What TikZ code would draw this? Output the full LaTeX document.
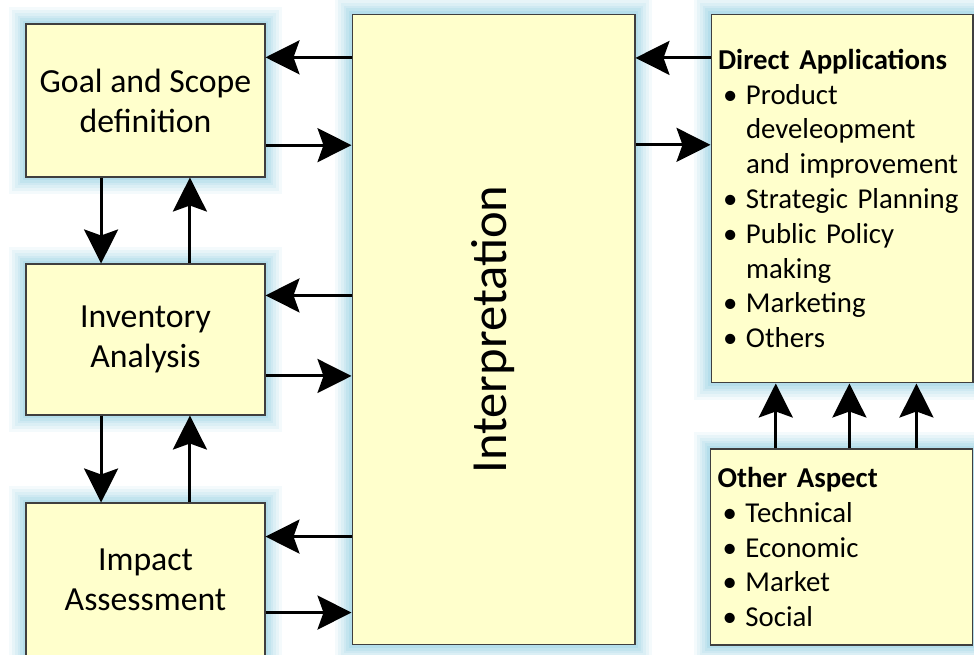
\documentclass[tikz,border=0pt]{standalone}
\usepackage{fontspec}
\setmainfont{Carlito}
\usepackage{tikz}
\usetikzlibrary{arrows.meta, positioning, calc}
\definecolor{boxFill}{HTML}{FFFFCC}
\definecolor{boxLine}{HTML}{3F3F3F}
\definecolor{glowBlue}{HTML}{8FCDE0}
\newcommand{\bul}{\makebox[0.56cm][l]{\hspace*{0.1cm}\textbullet}}
\newcommand{\ind}{\hspace*{0.56cm}}

\begin{document}
\begin{tikzpicture}[x=0.02cm, y=-0.02cm,
  blk/.style={rectangle, draw=boxLine, line width=0.6pt, fill=boxFill, inner sep=0pt,
    preaction={draw=glowBlue, line width=0.68cm, opacity=0.1},
    preaction={draw=glowBlue, line width=0.56cm, opacity=0.12},
    preaction={draw=glowBlue, line width=0.44cm, opacity=0.14},
    preaction={draw=glowBlue, line width=0.34cm, opacity=0.16},
    preaction={draw=glowBlue, line width=0.24cm, opacity=0.2},
    preaction={draw=glowBlue, line width=0.14cm, opacity=0.25}},
  stage/.style={blk, minimum width=4.78cm, align=center, font=\fontsize{19.2}{22.8}\selectfont},
  lst/.style={blk, minimum width=5.24cm, align=left, text width=4.96cm, font=\fontsize{16.4}{19.8}\selectfont},
  arr/.style={line width=1.7pt, -{Stealth[length=0.68cm, width=0.68cm, inset=0.12cm]}},
]
  \useasboundingbox (0,0) rectangle (974,655);
  % left column: the three phases
  \node[stage, minimum height=3.06cm] (goal) at (145.5,100.5) {Goal and Scope\\definition};
  \node[stage, minimum height=3.02cm] (inv)  at (145.5,339.5) {Inventory\\Analysis};
  \node[stage, minimum height=3.08cm] (imp)  at (145.5,580)   {Impact\\Assessment};
  % middle column
  \node[blk, minimum width=5.66cm, minimum height=12.62cm] (interp) at (493.5,329.5) {};
  \node[rotate=90, font=\fontsize{28.8}{32}\selectfont] (interpTxt) at (interp.center) {Interpretation};
  % right column: lists
  \node[lst, minimum height=7.38cm] (direct) at (842,198.5) {%
    \textbf{Direct Applications}\\
    \bul Product\\
    \ind develeopment\\
    \ind and improvement\\
    \bul Strategic Planning\\
    \bul Public Policy\\
    \ind making\\
    \bul Marketing\\
    \bul Others};
  \node[lst, minimum height=3.92cm] (other) at (841.5,547) {%
    \textbf{Other Aspect}\\
    \bul Technical\\
    \bul Economic\\
    \bul Market\\
    \bul Social};

  % arrows between phases and interpretation
  \foreach \n/\a/\b in {goal/0.22/0.79, inv/0.21/0.74, imp/0.22/0.71} {
    \coordinate (\n L) at ($(\n.north east)!\a!(\n.south east)$);
    \coordinate (\n R) at ($(\n.north east)!\b!(\n.south east)$);
    \draw[arr] (interp.west |- \n L) -- (\n L);
    \draw[arr] (\n R) -- (interp.west |- \n R);
  }
  % interpretation <-> direct applications
  \coordinate (dL) at ($(direct.north west)!0.12!(direct.south west)$);
  \coordinate (dR) at ($(direct.north west)!0.355!(direct.south west)$);
  \draw[arr] (dL) -- (interp.east |- dL);
  \draw[arr] (interp.east |- dR) -- (dR);

  % vertical arrows in the left column
  \foreach \u/\l in {goal/inv, inv/imp} {
    \coordinate (\u D) at ($(\u.south west)!0.315!(\u.south east)$);
    \coordinate (\u U) at ($(\u.south west)!0.685!(\u.south east)$);
    \draw[arr] (\u D) -- (\u D |- \l.north);
    \draw[arr] (\u U |- \l.north) -- (\u U);
  }
  % other aspect feeds the applications
  \foreach \f/\k in {0.25/a, 0.53/b, 0.785/c} {
    \coordinate (o\k) at ($(other.north west)!\f!(other.north east)$);
    \draw[arr] (o\k) -- (o\k |- direct.south);
  }
\end{tikzpicture}
\end{document}
